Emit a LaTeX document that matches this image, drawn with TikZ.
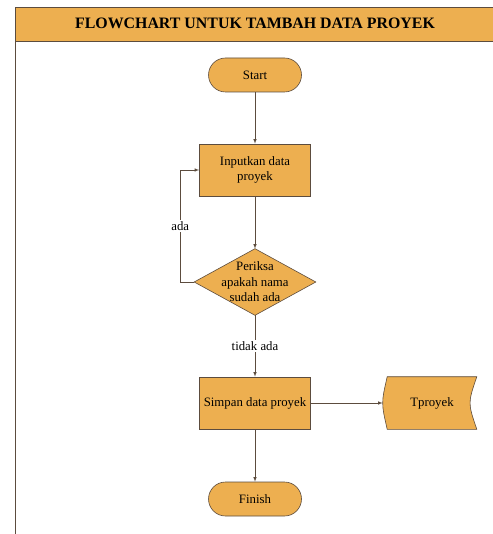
\documentclass[tikz,border=0pt]{standalone}
\usepackage{fontspec}
\setmainfont{Liberation Serif}
\usepackage{tikz}
\usetikzlibrary{arrows}

\definecolor{kotak}{RGB}{237,175,80}
\definecolor{garis}{RGB}{92,76,62}

\tikzset{
  term/.style={draw=garis, fill=kotak, rounded corners=17pt,
       minimum width=93pt, minimum height=34pt, inner sep=0pt},
  proses/.style={draw=garis, fill=kotak,
       minimum width=111pt, minimum height=52pt, inner sep=0pt, align=center},
  kosong/.style={inner sep=0pt, align=center},
  alur/.style={draw=garis, ->, >=latex, line width=0.6pt},
  ket/.style={fill=white, inner sep=1.5pt}
}

\begin{document}
\begin{tikzpicture}[x=1pt, y=-1pt, font=\fontsize{12.8}{15.5}\selectfont,
  line width=0.6pt]
\useasboundingbox (0,0) rectangle (492,534);

% bingkai dan judul
\draw[garis, fill=kotak] (15,7) rectangle (505,41);
\draw[garis] (15,41) -- (15,540);
\draw (255,23) node (judul) {\fontsize{15.9}{18}\selectfont\bfseries FLOWCHART UNTUK TAMBAH DATA PROYEK};

% simbol
\draw (255,75) node[term] (mulai) {Start};
\draw (255,170) node[proses] (input) {Inputkan data\\proyek};
\draw (255,282) node[kosong, minimum width=121pt, minimum height=66pt] (periksa) {};
\draw[garis, fill=kotak] (periksa.north) -- (periksa.east) -- (periksa.south)
  -- (periksa.west) -- cycle;
\draw (periksa.center) node[kosong] {Periksa\\apakah nama\\sudah ada};
\draw (255,403) node[proses] (simpan) {Simpan data proyek};
\draw (432,403) node[kosong, minimum width=89pt, minimum height=52pt] (tabel) {};
\draw[garis, fill=kotak] (tabel.north west) -- (tabel.north east)
  .. controls ([xshift=-9pt]tabel.east) .. (tabel.south east)
  -- (tabel.south west)
  .. controls ([xshift=-6pt]tabel.west) .. (tabel.north west) -- cycle;
\draw (tabel.center) node {Tproyek};
\draw (255,499) node[term] (selesai) {Finish};

% alur
\draw[alur] (mulai) -- (input);
\draw[alur] (input) -- (periksa.north);
\draw[alur] (periksa.west) -- ++(-14,0) |- node[ket, pos=0.25] {ada} (input.west);
\draw[alur] (periksa.south) -- node[ket] {tidak ada} (simpan);
\draw[alur] (simpan) -- ([xshift=-4.5pt]tabel.west);
\draw[alur] (simpan) -- (selesai);
\end{tikzpicture}
\end{document}
